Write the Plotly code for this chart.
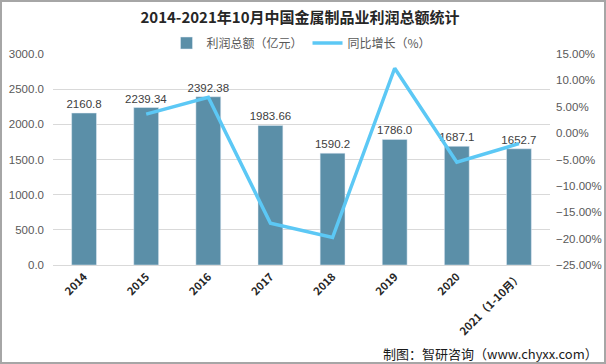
import plotly.graph_objects as go

categories = ["2014", "2015", "2016", "2017", "2018", "2019", "2020", "2021（1-10月）"]
profit = [2160.8, 2239.34, 2392.38, 1983.66, 1590.2, 1786.0, 1687.1, 1652.7]
profit_labels = ["2160.8", "2239.34", "2392.38", "1983.66", "1590.2", "1786.0", "1687.1", "1652.7"]
growth_categories = categories[1:]
growth = [3.6, 6.8, -17.1, -19.8, 12.3, -5.5, -2.0]

FONT = "Liberation Sans, Noto Sans CJK SC, sans-serif"
CJK = "Noto Sans CJK SC, sans-serif"

fig = go.Figure()
fig.add_trace(go.Bar(
    x=categories, y=profit, name="利润总额（亿元）",
    marker_color="#5B8FA8", width=0.4,
    text=profit_labels, textposition="outside", cliponaxis=False,
    constraintext="none",
    textfont=dict(size=11.5, color="#404040", family=FONT),
))
fig.add_trace(go.Scatter(
    x=growth_categories, y=growth, name="同比增长（%）", yaxis="y2",
    mode="lines", line=dict(color="#5CC8F5", width=3.5),
))

W, H = 606, 364
ml, mr, mt, mb = 53, 56, 54, 99
pw, ph = W - ml - mr, H - mt - mb

fig.update_layout(
    width=W, height=H,
    margin=dict(l=ml, r=mr, t=mt, b=mb, autoexpand=False),
    paper_bgcolor="white", plot_bgcolor="white",
    font=dict(family=FONT, color="#595959", size=12),
    title=dict(text="<b>2014-2021年10月中国金属制品业利润总额统计</b>",
               x=0.495, xanchor="center", y=1 - 18 / H, yanchor="middle",
               font=dict(size=15, color="#262626", family=CJK)),
    legend=dict(orientation="h", x=0.5, xanchor="center", y=1 + 11 / ph, yanchor="middle",
                font=dict(size=12, color="#595959", family=CJK),
                bgcolor="rgba(0,0,0,0)", traceorder="normal"),
    xaxis=dict(type="category", tickangle=-45, showgrid=False, automargin=False,
               showline=True, linecolor="#D9D9D9", linewidth=1, ticks="",
               tickvals=categories, ticktext=["<b>%s</b>" % c for c in categories],
               tickfont=dict(size=11, color="#262626", family=CJK),
               range=[-0.5, 7.5]),
    yaxis=dict(range=[0, 3000], dtick=500, tickformat=".1f", showgrid=True, automargin=False,
               gridcolor="#D9D9D9", gridwidth=1, zeroline=False, ticklabelstandoff=8,
               tickfont=dict(size=11.5, color="#595959"), ticks=""),
    yaxis2=dict(range=[-25, 15], dtick=5, tickformat=".2f", ticksuffix="%", automargin=False,
                overlaying="y", side="right", showgrid=False, zeroline=False,
                ticklabelstandoff=5,
                tickfont=dict(size=11.5, color="#595959"), ticks=""),
    showlegend=True,
)

# outer border
fig.add_shape(type="rect", xref="paper", yref="paper",
              x0=-(ml - 1) / pw, x1=1 + (mr - 1) / pw,
              y0=-(mb - 1) / ph, y1=1 + (mt - 1) / ph,
              line=dict(color="#A6A6A6", width=2), fillcolor="rgba(0,0,0,0)", layer="below")

fig.add_annotation(text="制图：智研咨询（www.chyxx.com）", xref="paper", yref="paper",
                   x=1 + (mr - 6) / pw, xanchor="right", y=-(353 - mt - ph) / ph,
                   yanchor="middle", showarrow=False,
                   font=dict(size=13, color="#1a1a1a", family=CJK))

fig.write_html("out.html", config={"displayModeBar": False},
               post_script="document.body.style.margin='0';document.body.style.overflow='hidden';")
